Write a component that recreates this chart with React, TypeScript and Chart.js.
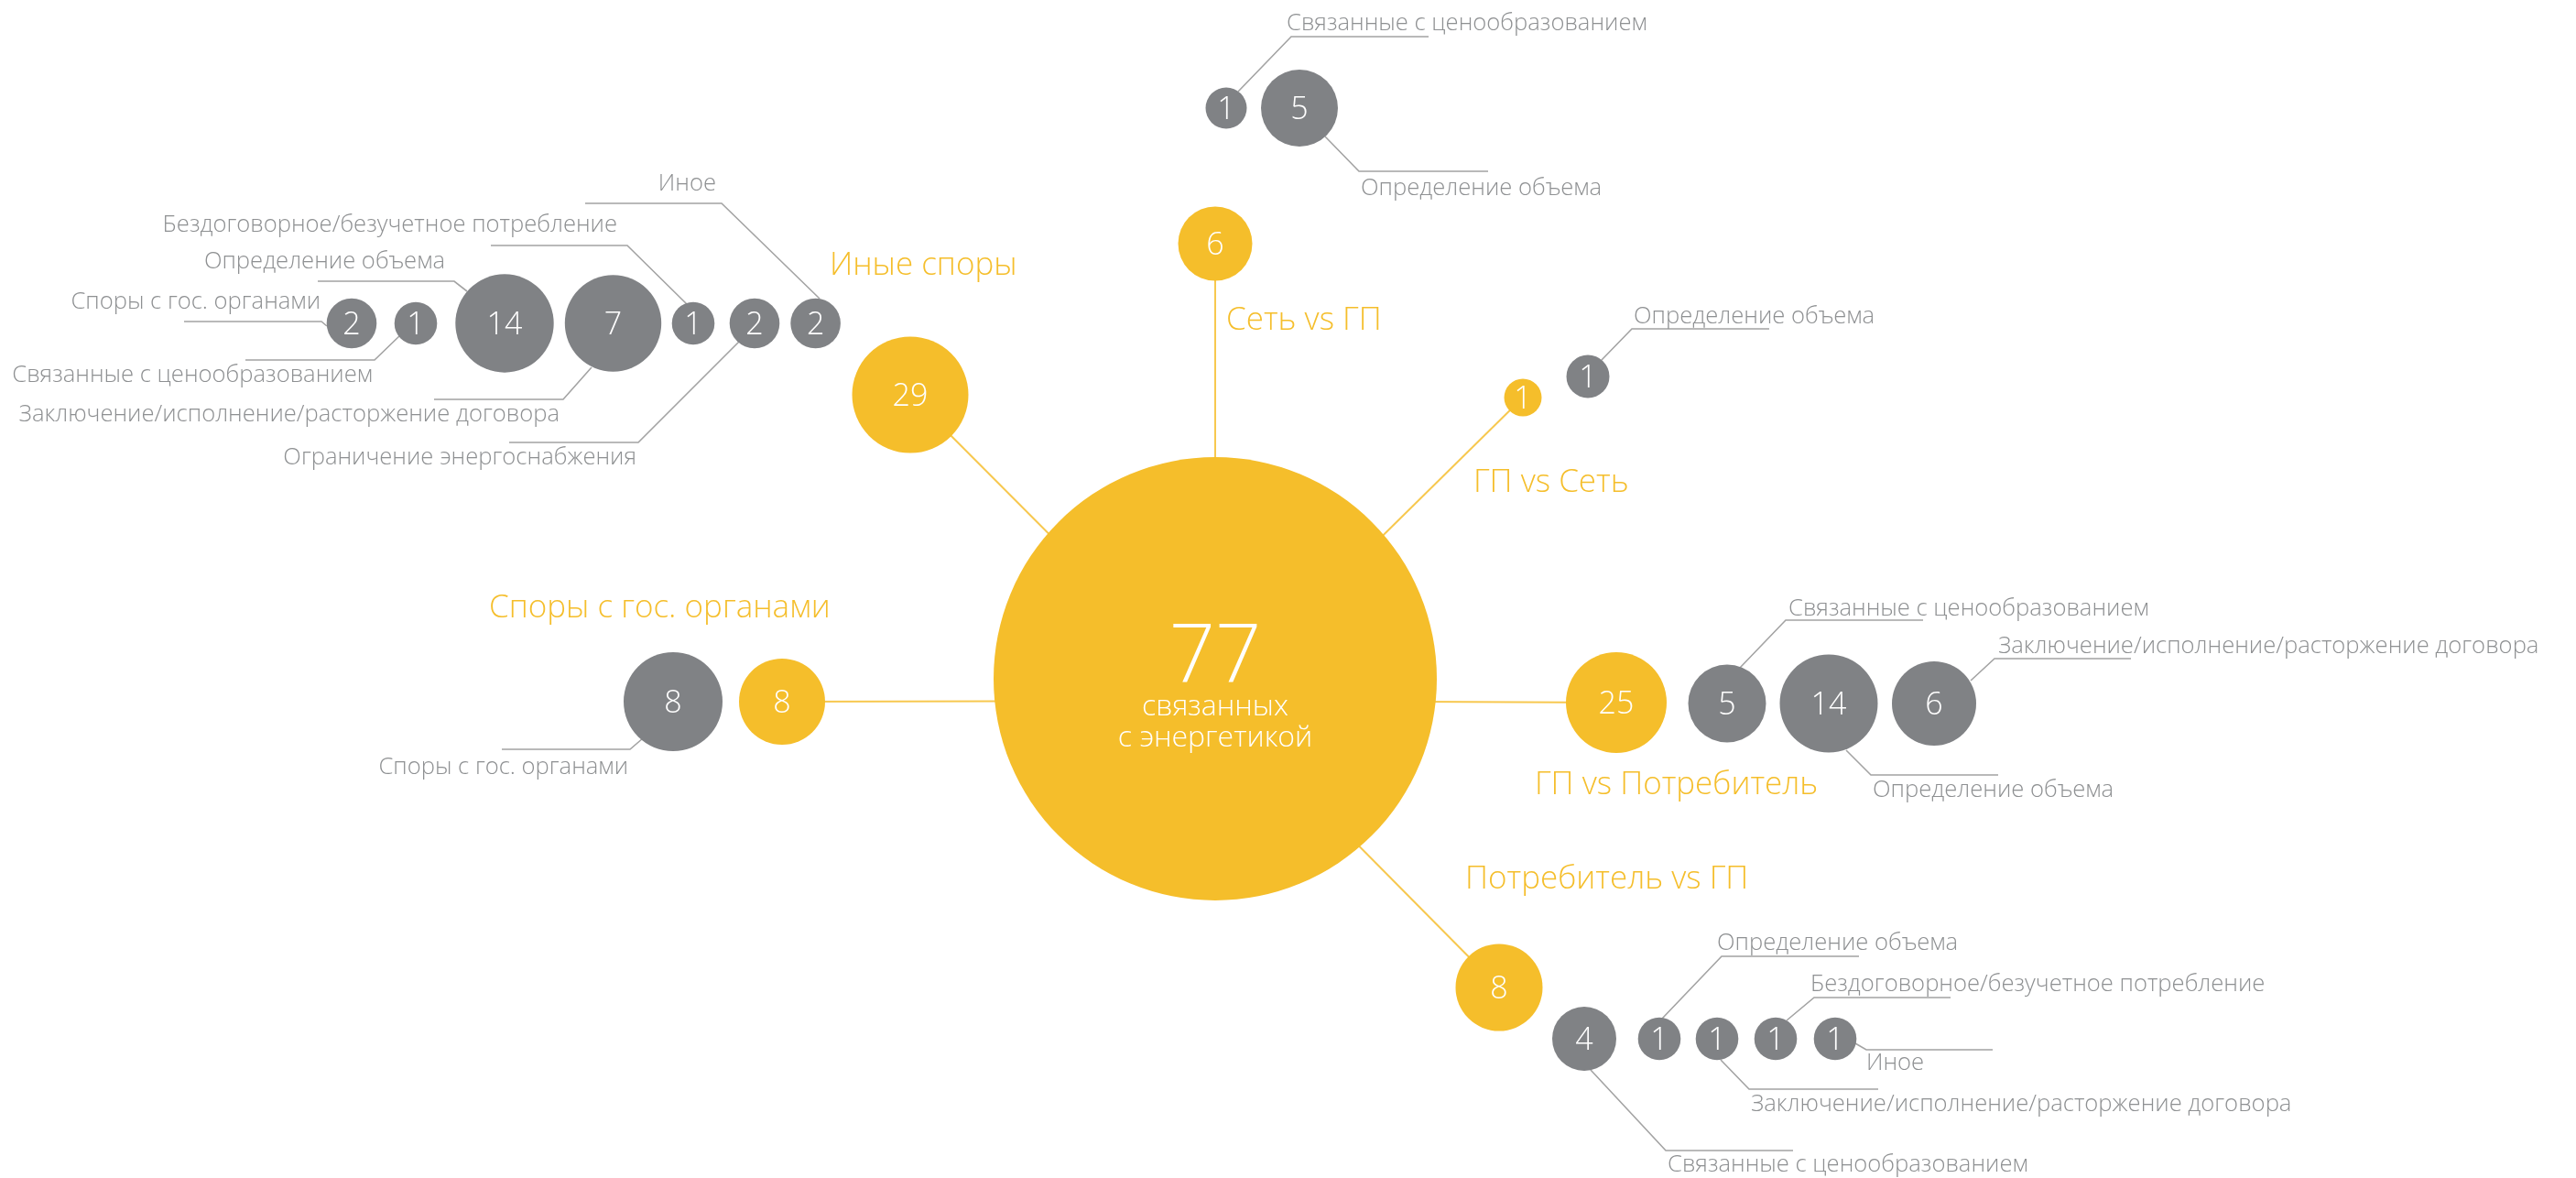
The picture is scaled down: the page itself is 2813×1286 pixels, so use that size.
import React, { useEffect, useRef } from 'react';
import { Chart, registerables } from 'chart.js';

Chart.register(...registerables);

// ---------------- DATA ----------------
const centerTotal = 77;
const centerCaption = ['связанных', 'с энергетикой'];

const categoryNames = [
  'Сеть vs ГП',
  'ГП vs Сеть',
  'ГП vs Потребитель',
  'Потребитель vs ГП',
  'Споры с гос. органами',
  'Иные споры',
];
const categoryTotals = [6, 1, 25, 8, 8, 29];

const setVsGpNames = ['Связанные с ценообразованием', 'Определение объема'];
const setVsGpValues = [1, 5];

const gpVsSetNames = ['Определение объема'];
const gpVsSetValues = [1];

const gpVsConsumerNames = [
  'Связанные с ценообразованием',
  'Определение объема',
  'Заключение/исполнение/расторжение договора',
];
const gpVsConsumerValues = [5, 14, 6];

const consumerVsGpNames = [
  'Связанные с ценообразованием',
  'Определение объема',
  'Заключение/исполнение/расторжение договора',
  'Бездоговорное/безучетное потребление',
  'Иное',
];
const consumerVsGpValues = [4, 1, 1, 1, 1];

const govNames = ['Споры с гос. органами'];
const govValues = [8];

const otherNames = [
  'Споры с гос. органами',
  'Связанные с ценообразованием',
  'Определение объема',
  'Заключение/исполнение/расторжение договора',
  'Бездоговорное/безучетное потребление',
  'Ограничение энергоснабжения',
  'Иное',
];
const otherValues = [2, 1, 14, 7, 1, 2, 2];

const subNames = [setVsGpNames, gpVsSetNames, gpVsConsumerNames, consumerVsGpNames, govNames, otherNames];
const subValues = [setVsGpValues, gpVsSetValues, gpVsConsumerValues, consumerVsGpValues, govValues, otherValues];

// ---------------- LAYOUT (diagram units) ----------------
const W = 2813;
const H = 1286;
const HUB = { x: 1327, y: 765 };
const CENTER_LAYOUT = { x: 1327, y: 741, r: 242 };

// [x, y, r, labelX, labelBaselineY]
const categoryLayout: number[][] = [
  [1327, 266, 40.5, 1339, 360],
  [1663, 434, 20.5, 1609, 537],
  [1765, 767, 55, 1676, 867],
  [1637, 1078, 47.5, 1600, 970],
  [854, 766, 47, 534, 674],
  [994, 431, 63.5, 906, 300],
];

// [x, y, r, startX, startY, elbowX, elbowY, endX, textX, textBaselineY, align]
type Sub = [number, number, number, number, number, number, number, number, number, number, CanvasTextAlign];
const subLayout: Sub[][] = [
  [
    [1339, 118, 22.5, 1352, 100, 1410, 40, 1560, 1405, 33, 'left'],
    [1419, 118, 42, 1447, 149, 1484, 187, 1625, 1486, 213, 'left'],
  ],
  [[1734, 411, 23.5, 1748, 394, 1782, 359, 1932, 1784, 353, 'left']],
  [
    [1886, 768, 42.5, 1900, 729, 1950, 677, 2100, 1953, 672, 'left'],
    [1997, 768, 53.5, 2016, 819, 2043, 846, 2182, 2045, 870, 'left'],
    [2112, 768, 46, 2152, 743, 2178, 719, 2327, 2182, 713, 'left'],
  ],
  [
    [1730, 1134, 35, 1737, 1168, 1819, 1256, 1958, 1821, 1279, 'left'],
    [1812, 1134, 23.3, 1815, 1112, 1880, 1044, 2030, 1875, 1037, 'left'],
    [1875, 1134, 23.3, 1879, 1157, 1910, 1189, 2051, 1912, 1213, 'left'],
    [1939, 1134, 23.3, 1951, 1114, 1981, 1089, 2130, 1977, 1082, 'left'],
    [2004, 1134, 23.3, 2026, 1139, 2038, 1146, 2176, 2038, 1168, 'left'],
  ],
  [[735, 766, 54, 702, 806, 688, 818, 548, 686, 845, 'right']],
  [
    [384, 353, 27.3, 357, 356, 351, 351, 201, 350, 337, 'right'],
    [454, 353, 23.3, 437, 366, 409, 393, 268, 407, 417, 'right'],
    [551, 353, 53.7, 510, 318, 496, 307, 347, 486, 293, 'right'],
    [669.5, 353, 52.7, 646, 401, 615, 436, 474, 611, 460, 'right'],
    [757, 353, 23.3, 751, 333, 685, 268, 536, 674, 253, 'right'],
    [824, 353, 27.3, 807, 373, 697, 483, 556, 695, 507, 'right'],
    [890.6, 353, 27.3, 895, 326, 788, 222, 639, 782, 208, 'right'],
  ],
];

// ---------------- STYLE ----------------
const YELLOW = '#F5BE2B';
const YELLOW_LINE = '#F7C84F';
const GRAY = '#808285';
const GRAY_TEXT = '#8E9092';
const GRAY_LINE = '#A3A3A3';
const FONT = '"Open Sans", "Noto Sans", sans-serif';

const diagramPlugin = {
  id: 'diagram',
  beforeDatasetsDraw(chart: any) {
    const { ctx } = chart;
    const xs = chart.scales.x;
    const ys = chart.scales.y;
    const px = (v: number) => xs.getPixelForValue(v);
    const py = (v: number) => ys.getPixelForValue(v);
    ctx.save();
    ctx.strokeStyle = YELLOW_LINE;
    ctx.lineWidth = 2;
    const catMeta = chart.getDatasetMeta(1);
    catMeta.data.forEach((el: any) => {
      ctx.beginPath();
      ctx.moveTo(px(HUB.x), py(HUB.y));
      ctx.lineTo(el.x, el.y);
      ctx.stroke();
    });
    ctx.strokeStyle = GRAY_LINE;
    ctx.lineWidth = 1.6;
    subLayout.forEach((group) => {
      group.forEach((s) => {
        ctx.beginPath();
        ctx.moveTo(px(s[3]), py(s[4]));
        ctx.lineTo(px(s[5]), py(s[6]));
        ctx.lineTo(px(s[7]), py(s[6]));
        ctx.stroke();
      });
    });
    ctx.restore();
  },
  afterDatasetsDraw(chart: any) {
    const { ctx } = chart;
    const xs = chart.scales.x;
    const ys = chart.scales.y;
    const px = (v: number) => xs.getPixelForValue(v);
    const py = (v: number) => ys.getPixelForValue(v);
    ctx.save();
    ctx.fillStyle = '#FFFFFF';
    ctx.textAlign = 'center';
    ctx.textBaseline = 'alphabetic';
    chart.data.datasets.forEach((ds: any, di: number) => {
      if (di === 0) return;
      const meta = chart.getDatasetMeta(di);
      meta.data.forEach((el: any, i: number) => {
        const fs = 34;
        ctx.font = `300 ${fs}px ${FONT}`;
        ctx.fillText(String(ds.data[i].v), el.x, el.y + fs * 0.36);
      });
    });
    const c = chart.getDatasetMeta(0).data[0];
    ctx.font = `300 88px ${FONT}`;
    ctx.fillText(String(chart.data.datasets[0].data[0].v), c.x, c.y + 3);
    ctx.font = `300 32px ${FONT}`;
    ctx.fillText(centerCaption[0], c.x, c.y + 40);
    ctx.fillText(centerCaption[1], c.x, c.y + 74);
    ctx.fillStyle = YELLOW;
    ctx.textAlign = 'left';
    ctx.font = `300 35px ${FONT}`;
    categoryNames.forEach((n, i) => {
      ctx.fillText(n, px(categoryLayout[i][3]), py(categoryLayout[i][4]));
    });
    ctx.fillStyle = GRAY_TEXT;
    ctx.font = `300 25.6px ${FONT}`;
    subNames.forEach((names, gi) => {
      names.forEach((n, i) => {
        const s = subLayout[gi][i];
        ctx.textAlign = s[10];
        ctx.fillText(n, px(s[8]), py(s[9]));
      });
    });
    ctx.restore();
  },
};

export default function App() {
  const ref = useRef<HTMLCanvasElement | null>(null);
  useEffect(() => {
    if (!ref.current) return;
    const datasets: any[] = [
      {
        data: [{ x: CENTER_LAYOUT.x, y: CENTER_LAYOUT.y, r: CENTER_LAYOUT.r, v: centerTotal }],
        backgroundColor: YELLOW,
        borderWidth: 0,
        clip: false,
      },
      {
        data: categoryTotals.map((v, i) => ({
          x: categoryLayout[i][0],
          y: categoryLayout[i][1],
          r: categoryLayout[i][2],
          v,
        })),
        backgroundColor: YELLOW,
        borderWidth: 0,
        clip: false,
      },
      ...subValues.map((vals, gi) => ({
        label: categoryNames[gi],
        data: vals.map((v, i) => ({
          x: subLayout[gi][i][0],
          y: subLayout[gi][i][1],
          r: subLayout[gi][i][2],
          v,
        })),
        backgroundColor: GRAY,
        borderWidth: 0,
        clip: false,
      })),
    ];
    const chart = new Chart(ref.current, {
      type: 'bubble',
      data: { datasets },
      options: {
        animation: false,
        responsive: false,
        devicePixelRatio: 1,
        layout: { padding: 0, autoPadding: false },
        events: [],
        scales: {
          x: { type: 'linear', min: 0, max: W, display: false },
          y: { type: 'linear', min: 0, max: H, reverse: true, display: false },
        },
        plugins: {
          legend: { display: false },
          tooltip: { enabled: false },
        },
        elements: { point: { hoverRadius: 0, borderWidth: 0 } },
      } as any,
      plugins: [diagramPlugin],
    });
    return () => chart.destroy();
  }, []);
  return (
    <div style={{ position: 'fixed', left: 0, top: 0, width: W, height: H, background: '#fff' }}>
      <canvas ref={ref} width={W} height={H} style={{ display: 'block', width: W, height: H }} />
    </div>
  );
}
